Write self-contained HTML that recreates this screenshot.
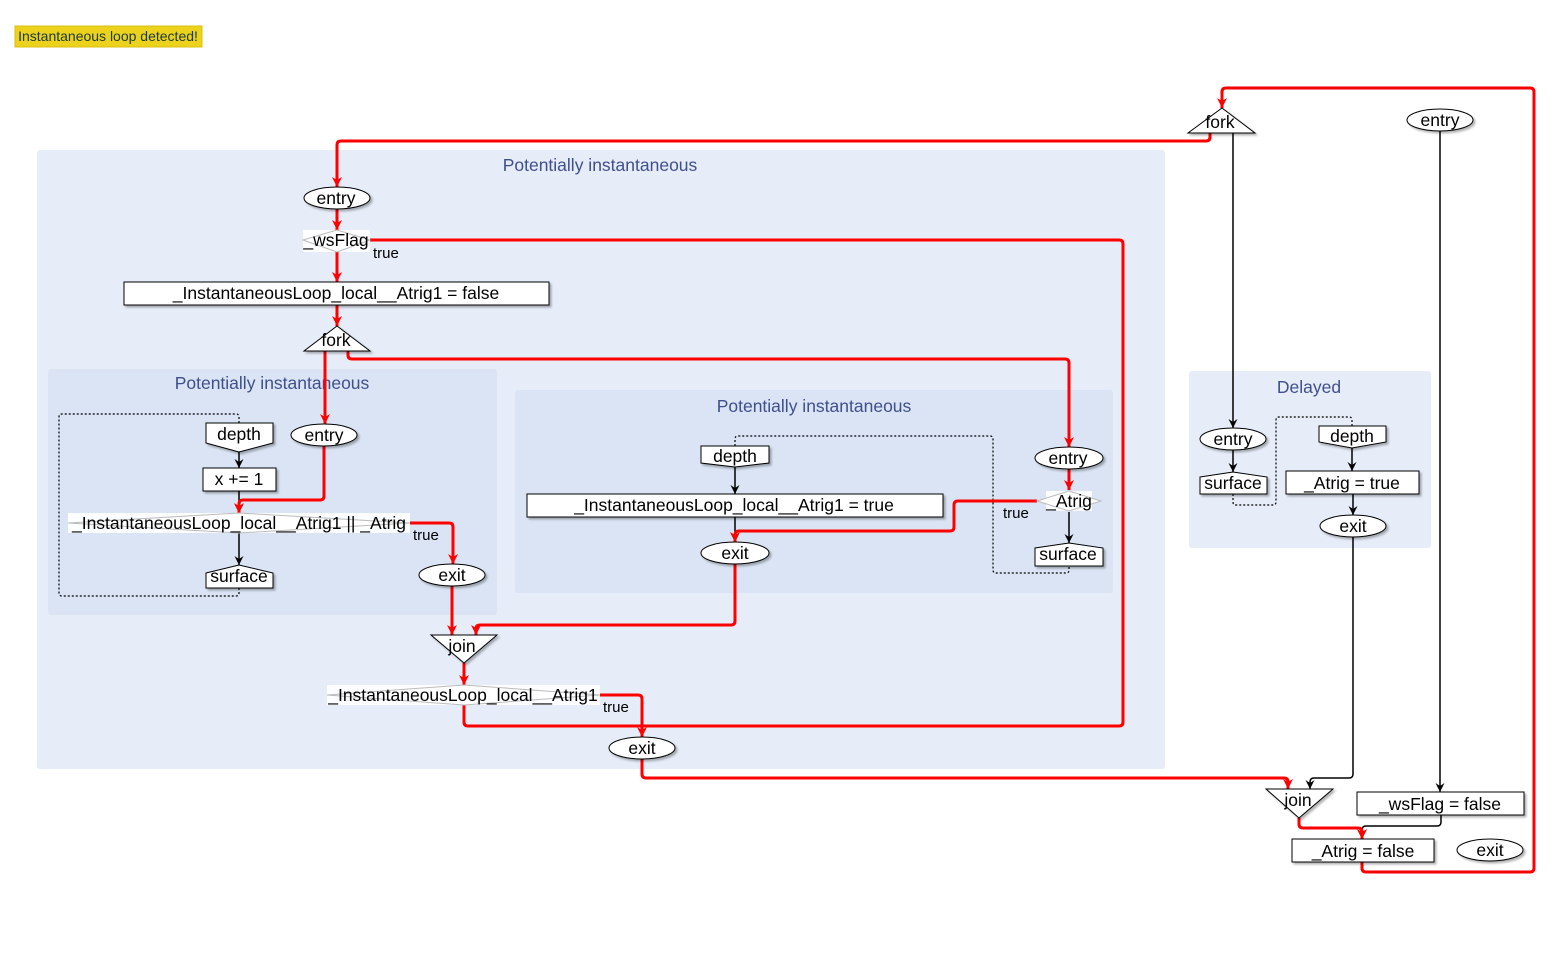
<!DOCTYPE html>
<html><head><meta charset="utf-8"><style>
html,body{margin:0;padding:0;background:#fff;}
svg{display:block;font-family:"Liberation Sans",Arial,sans-serif;}
.t{font-size:17.5px;fill:#000;text-anchor:middle;}
.g{font-size:17.5px;fill:#3f4f8c;text-anchor:middle;}
.s{font-size:15px;fill:#000;}
.n{fill:#fff;stroke:#000;stroke-width:1;filter:url(#sh);}
.r{fill:none;stroke:#f00;stroke-width:3;}
.b{fill:none;stroke:#000;stroke-width:1.5;}
.d{fill:none;stroke:#000;stroke-width:1.2;stroke-dasharray:2,2;}
.dm{fill:#fff;fill-opacity:0.85;stroke:#bbb;stroke-width:1;}
</style></head><body>
<svg width="1556" height="963" viewBox="0 0 1556 963" xmlns="http://www.w3.org/2000/svg">
<defs>
<filter id="sh" x="-10%" y="-20%" width="130%" height="160%"><feDropShadow dx="2" dy="2" stdDeviation="1" flood-color="#000" flood-opacity="0.3"/></filter>
<marker id="rr" markerWidth="10" markerHeight="12" refX="10" refY="5" orient="auto" markerUnits="userSpaceOnUse"><path d="M0,0 L10,5 L0,10 L3,5 Z" fill="#f00"/></marker>
<marker id="bb" markerWidth="9" markerHeight="10" refX="9" refY="4.5" orient="auto" markerUnits="userSpaceOnUse"><path d="M0,0 L9,4.5 L0,9 L3,4.5 Z" fill="#000"/></marker>
</defs>

<rect x="15" y="26" width="187" height="21" fill="#ecd21c" stroke="#d8c010"/>
<text x="108" y="41" style="font-size:14px;fill:#1a3a3a;text-anchor:middle">Instantaneous loop detected!</text>

<rect x="37" y="150" width="1128" height="619" rx="3" fill="#e6ecf8"/>
<text class="g" x="600" y="171">Potentially instantaneous</text>
<rect x="48" y="369" width="449" height="246" rx="3" fill="#dae4f4"/>
<text class="g" x="272" y="389">Potentially instantaneous</text>
<rect x="515" y="390" width="598" height="203" rx="3" fill="#dae4f4"/>
<text class="g" x="814" y="412">Potentially instantaneous</text>
<rect x="1189" y="371" width="242" height="177" rx="3" fill="#e6ecf8"/>
<text class="g" x="1309" y="393">Delayed</text>

<path class="d" d="M239,423 V417 Q239,414 236,414 H62 Q59,414 59,417 V593 Q59,596 62,596 H236 Q239,596 239,593 V588"/>
<path class="d" d="M735,446 V439 Q735,436 738,436 H990 Q993,436 993,439 V570 Q993,573 996,573 H1066 Q1069,573 1069,570 V566"/>
<path class="d" d="M1233,494 V502 Q1233,505 1236,505 H1273 Q1276,505 1276,502 V420 Q1276,417 1279,417 H1349 Q1352,417 1352,420 V426"/>

<path class="b" marker-end="url(#bb)" d="M1233,133 V428"/>
<path class="b" marker-end="url(#bb)" d="M1440,131 V792"/>
<path class="b" marker-end="url(#bb)" d="M239,450 V468"/>
<path class="b" marker-end="url(#bb)" d="M239,491 V513"/>
<path class="b" marker-end="url(#bb)" d="M239,533 V565"/>
<path class="b" marker-end="url(#bb)" d="M735,466 V494"/>
<path class="b" marker-end="url(#bb)" d="M735,517 V542"/>
<path class="b" marker-end="url(#bb)" d="M1069,512 V543"/>
<path class="b" marker-end="url(#bb)" d="M1233,450 V472"/>
<path class="b" marker-end="url(#bb)" d="M1352,447 V471"/>
<path class="b" marker-end="url(#bb)" d="M1353,494 V515"/>
<path class="b" marker-end="url(#bb)" d="M1353,537 V774 Q1353,778 1349,778 H1314 Q1310,778 1310,782 V789"/>
<path class="b" marker-end="url(#bb)" d="M1441,815 V822 Q1441,826 1437,826 H1366 Q1362,826 1362,830 V839"/>

<path class="r" marker-end="url(#rr)" d="M1210,133 V137 Q1210,141 1206,141 H341 Q337,141 337,145 V187"/>
<path class="r" marker-end="url(#rr)" d="M337,209 V230"/>
<path class="r" marker-end="url(#rr)" d="M337,252 V282"/>
<path class="r" d="M370,240 H1119 Q1123,240 1123,244 V722 Q1123,726 1119,726 H468 Q464,726 464,722 V705"/>
<path class="r" marker-end="url(#rr)" d="M337,305 V326"/>
<path class="r" marker-end="url(#rr)" d="M325,351 V424"/>
<path class="r" marker-end="url(#rr)" d="M348,351 V355 Q348,359 352,359 H1065 Q1069,359 1069,363 V447"/>
<path class="r" marker-end="url(#rr)" d="M324,446 V496 Q324,500 320,500 H243 Q239,500 239,504 V513"/>
<path class="r" marker-end="url(#rr)" d="M410,523 H449 Q453,523 453,527 V564"/>
<path class="r" marker-end="url(#rr)" d="M452,586 V635"/>
<path class="r" marker-end="url(#rr)" d="M735,564 V621 Q735,625 731,625 H480 Q476,625 476,629 V635"/>
<path class="r" marker-end="url(#rr)" d="M464,663 V685"/>
<path class="r" marker-end="url(#rr)" d="M600,695 H638 Q642,695 642,699 V737"/>
<path class="r" d="M642,759 V774 Q642,778 646,778 H1284 Q1288,778 1288,782 V789"/>
<path class="r" marker-end="url(#rr)" d="M1288,782 V789"/>
<path class="r" marker-end="url(#rr)" d="M1069,469 V490"/>
<path class="r" marker-end="url(#rr)" d="M1037,501 H958 Q954,501 954,505 V527 Q954,531 950,531 H739 Q735,531 735,535 V542"/>
<path class="r" marker-end="url(#rr)" d="M1299,818 V824 Q1299,828 1303,828 H1358 Q1362,828 1362,832 V839"/>
<path class="r" marker-end="url(#rr)" d="M1362,862 V868 Q1362,872 1366,872 H1530 Q1534,872 1534,868 V92 Q1534,88 1530,88 H1226 Q1222,88 1222,92 V108"/>

<polygon class="n" points="1222,108 1255,133 1188,133"/><text class="t" x="1220" y="128">fork</text>
<ellipse class="n" cx="1440" cy="120" rx="33" ry="11"/><text class="t" x="1440" y="126">entry</text>

<ellipse class="n" cx="337" cy="198" rx="33" ry="11"/><text class="t" x="336" y="204">entry</text>
<rect x="303" y="230" width="67" height="22" fill="#fff" fill-opacity="0.9"/>
<polygon class="dm" points="303,240 337,230 370,240 337,252"/>
<text class="t" x="336" y="246">_wsFlag</text><text class="s" x="373" y="258">true</text>
<rect class="n" x="124" y="282" width="425" height="23"/><text class="t" x="336" y="299">_InstantaneousLoop_local__Atrig1 = false</text>
<polygon class="n" points="337,326 370,351 304,351"/><text class="t" x="336" y="346">fork</text>

<polygon class="n" points="206,423 273,423 273,443 239,452 206,443"/><text class="t" x="239" y="440">depth</text>
<ellipse class="n" cx="324" cy="435" rx="33" ry="11"/><text class="t" x="324" y="441">entry</text>
<rect class="n" x="203" y="468" width="73" height="23"/><text class="t" x="239" y="485">x += 1</text>
<rect x="68" y="513" width="342" height="20" fill="#fff" fill-opacity="0.9"/>
<polygon class="dm" points="68,523 239,513 410,523 239,533"/>
<text class="t" x="239" y="529">_InstantaneousLoop_local__Atrig1 || _Atrig</text><text class="s" x="413" y="540">true</text>
<polygon class="n" points="206,573 239,565 273,573 273,588 206,588"/><text class="t" x="239" y="582">surface</text>
<ellipse class="n" cx="452" cy="575" rx="33" ry="11"/><text class="t" x="452" y="581">exit</text>

<polygon class="n" points="701,446 769,446 769,463 735,467 701,463"/><text class="t" x="735" y="462">depth</text>
<rect class="n" x="527" y="494" width="416" height="23"/><text class="t" x="734" y="511">_InstantaneousLoop_local__Atrig1 = true</text>
<ellipse class="n" cx="735" cy="553" rx="34" ry="11"/><text class="t" x="735" y="559">exit</text>
<ellipse class="n" cx="1069" cy="458" rx="34" ry="11"/><text class="t" x="1068" y="464">entry</text>
<rect x="1046" y="491" width="46" height="20" fill="#fff" fill-opacity="0.9"/>
<polygon class="dm" points="1037,501 1069,491 1101,501 1069,511"/>
<text class="t" x="1069" y="507">_Atrig</text><text class="s" x="1003" y="518">true</text>
<polygon class="n" points="1035,548 1069,543 1103,548 1103,566 1035,566"/><text class="t" x="1068" y="560">surface</text>

<polygon class="n" points="431,635 497,635 464,663"/><text class="t" x="462" y="652">join</text>
<rect x="327" y="685" width="273" height="20" fill="#fff" fill-opacity="0.9"/>
<polygon class="dm" points="327,695 464,685 600,695 464,705"/>
<text class="t" x="463" y="701">_InstantaneousLoop_local__Atrig1</text><text class="s" x="603" y="712">true</text>
<ellipse class="n" cx="642" cy="748" rx="33" ry="11"/><text class="t" x="642" y="754">exit</text>

<ellipse class="n" cx="1233" cy="439" rx="33" ry="11"/><text class="t" x="1233" y="445">entry</text>
<polygon class="n" points="1200,477 1233,472 1267,477 1267,494 1200,494"/><text class="t" x="1233" y="489">surface</text>
<polygon class="n" points="1319,426 1386,426 1386,442 1352,448 1319,442"/><text class="t" x="1352" y="442">depth</text>
<rect class="n" x="1286" y="471" width="133" height="23"/><text class="t" x="1352" y="489">_Atrig = true</text>
<ellipse class="n" cx="1353" cy="526" rx="33" ry="11"/><text class="t" x="1353" y="532">exit</text>

<polygon class="n" points="1266,789 1333,789 1299,818"/><text class="t" x="1298" y="806">join</text>
<rect class="n" x="1357" y="792" width="167" height="23"/><text class="t" x="1440" y="810">_wsFlag = false</text>
<rect class="n" x="1292" y="839" width="142" height="23"/><text class="t" x="1363" y="857">_Atrig = false</text>
<ellipse class="n" cx="1490" cy="850" rx="33" ry="11"/><text class="t" x="1490" y="856">exit</text>
</svg>
</body></html>
